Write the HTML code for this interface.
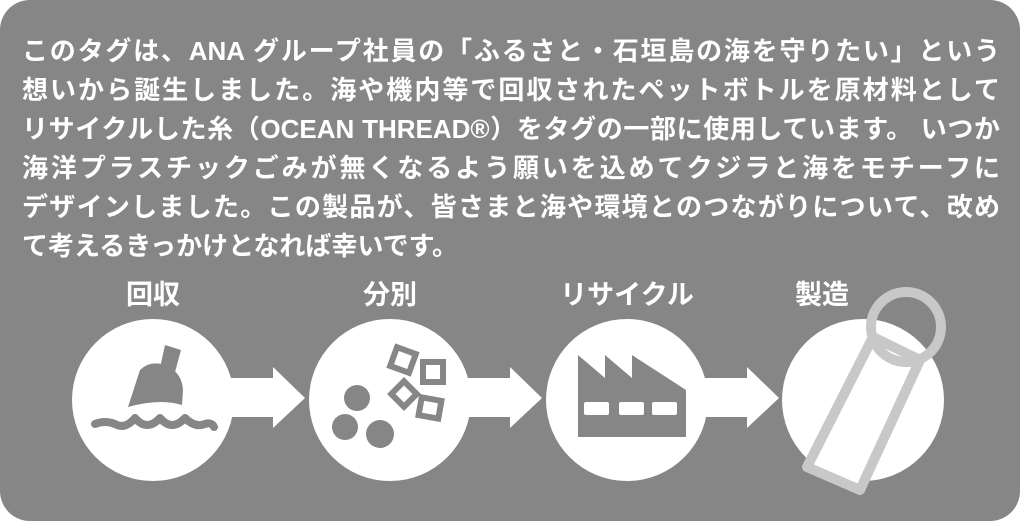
<!DOCTYPE html>
<html><head><meta charset="utf-8"><style>
html,body{margin:0;padding:0;background:#fff}
#c{position:relative;width:1020px;height:521px;background:#868686;border-radius:30px;overflow:hidden;font-family:"Liberation Sans","Noto Sans CJK JP",sans-serif;color:#fff;font-weight:bold}
.l{position:absolute;left:22px;width:978px;font-size:26px;line-height:30px;white-space:nowrap;text-align:justify;text-align-last:justify}
.t{position:absolute;font-size:27px;line-height:30px;text-align:center;width:200px}
svg{position:absolute;left:0;top:0}
</style></head><body><div id="c">
<div class="l" style="top:36px">このタグは、ANA グループ社員の「ふるさと・石垣島の海を守りたい」という</div>
<div class="l" style="top:75px">想いから誕生しました。海や機内等で回収されたペットボトルを原材料として</div>
<div class="l" style="top:114px">リサイクルした糸（OCEAN THREAD®）をタグの一部に使用しています。 いつか</div>
<div class="l" style="top:153px">海洋プラスチックごみが無くなるよう願いを込めてクジラと海をモチーフに</div>
<div class="l" style="top:192px">デザインしました。この製品が、皆さまと海や環境とのつながりについて、改め</div>
<div class="l" style="top:231px;width:auto;text-align-last:left">て考えるきっかけとなれば幸いです。</div>
<div class="t" style="left:53px;top:280px">回収</div>
<div class="t" style="left:290px;top:280px">分別</div>
<div class="t" style="left:527px;top:280px">リサイクル</div>
<div class="t" style="left:722px;top:280px">製造</div>
<svg width="1020" height="521">
<g fill="#fff">
<circle cx="153" cy="400" r="81"/>
<circle cx="390" cy="400" r="81"/>
<circle cx="627" cy="400" r="81"/>
<circle cx="863" cy="400" r="81"/>
<polygon points="225,378 273,378 273,367 305,398 273,428 273,417 225,417"/>
<polygon points="462,378 510,378 510,367 542,398 510,428 510,417 462,417"/>
<polygon points="699,378 747,378 747,367 779,398 747,428 747,417 699,417"/>
</g>
<g fill="#868686">
<polygon points="165,345 181,350 175,372 160,368"/>
<path d="M128,407 L140,370 Q150,360 165,365 Q182,372 183,390 L182,405 Q160,398 128,407Z"/>
</g>
<path d="M95,424 Q105,420 115,424 Q125,430 135,418 Q147,432 160,418 Q172,432 185,418 Q195,428 205,424 Q212,422 214,427" fill="none" stroke="#868686" stroke-width="8" stroke-linecap="round" stroke-linejoin="round"/>
<g fill="#868686">
<circle cx="357" cy="398" r="13"/>
<circle cx="345" cy="427" r="13"/>
<circle cx="380" cy="434" r="14"/>
<path d="M578,355 L605,378 L605,355 L632,378 L632,355 L686,390 L686,437 L578,437Z"/>
</g>
<g fill="none" stroke="#868686" stroke-width="6">
<rect x="393" y="350" width="20" height="20" transform="rotate(20 403 360)"/>
<rect x="423" y="362" width="20" height="20"/>
<rect x="395" y="385" width="18" height="18" transform="rotate(45 404 394)"/>
<rect x="420" y="399" width="20" height="18" transform="rotate(10 430 408)"/>
</g>
<g fill="#fff">
<rect x="584" y="402" width="25" height="13" rx="2"/>
<rect x="619" y="402" width="25" height="13" rx="2"/>
<rect x="652" y="402" width="25" height="13" rx="2"/>
</g>
<polygon points="873,337 920,360 860,490 807,467" fill="#fff" stroke="#c8c8c8" stroke-width="10" stroke-linejoin="round"/>
<circle cx="906" cy="327" r="35" fill="none" stroke="#c8c8c8" stroke-width="10"/>
</svg>
</div></body></html>
